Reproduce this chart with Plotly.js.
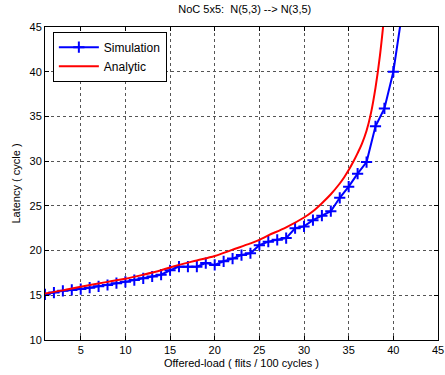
<!DOCTYPE html>
<html>
<head>
<meta charset="utf-8">
<script src="https://cdn.plot.ly/plotly-3.0.1.min.js"></script>
<style>html,body{margin:0;padding:0;background:#fff;}#chart{width:445px;height:375px;}</style>
</head>
<body>
<div id="chart"></div>
<script>
const simLoad = [1,2,3,4,5,6,7,8,9,10,11,12,13,14,15,16,17,18,19,20,21,22,23,24,25,26,27,28,29,30,31,32,33,34,35,36,37,38,39,40,41];
const simLatency = [15.1,15.3,15.5,15.6,15.7,15.85,16.0,16.15,16.35,16.5,16.7,16.9,17.1,17.3,17.8,18.2,18.2,18.2,18.6,18.4,18.8,19.1,19.5,19.7,20.6,21.0,21.2,21.4,22.5,22.7,23.4,23.9,24.4,25.9,27.15,28.6,29.9,33.9,35.9,40.0,46.7];
const anaLoad = [1,3,5,8,10,12,14,16,18,20,22,24,25,26,28,30,31,32,33,34,34.5,35,35.5,36,36.5,37,37.5,38,38.5,39];
const anaLatency = [15.2,15.55,15.95,16.5,16.85,17.3,17.8,18.4,18.9,19.4,20.1,20.8,21.2,21.7,22.6,23.7,24.4,25.3,26.3,27.5,28.2,29.0,29.9,30.9,32.0,33.4,35.4,38.2,41.8,46.5];
const xTicks = [5,10,15,20,25,30,35,40,45];
const yTicks = [10,15,20,25,30,35,40,45];

const traces = [
  {x: simLoad, y: simLatency, name: 'Simulation', type: 'scatter', mode: 'lines+markers',
   line: {color: '#0000ff', width: 2},
   marker: {symbol: 'cross-thin', size: 8, color: '#0000ff', line: {color: '#0000ff', width: 2}}},
  {x: anaLoad, y: anaLatency, name: 'Analytic', type: 'scatter', mode: 'lines',
   line: {color: '#ff0000', width: 2, shape: 'spline', smoothing: 1}}
];

const axisCommon = {
  showline: true, mirror: 'ticks', linecolor: '#000', linewidth: 1,
  ticks: 'inside', ticklen: 4, tickcolor: '#000',
  showgrid: true, gridcolor: '#555', griddash: 'dot', gridwidth: 1,
  zeroline: false, tickfont: {size: 11, color: '#000'}
};

const layout = {
  width: 445, height: 375,
  margin: {l: 45, r: 7, t: 27, b: 35},
  paper_bgcolor: '#fff', plot_bgcolor: '#fff',
  font: {family: 'Liberation Sans, Arial, sans-serif', size: 11, color: '#000'},
  title: {text: 'NoC 5x5:  N(5,3) --> N(3,5)', font: {size: 11, color: '#000'}, x: 0.55, xanchor: 'center', y: 0.985, yanchor: 'top'},
  xaxis: Object.assign({}, axisCommon, {range: [1, 45], tickvals: xTicks,
    title: {text: 'Offered-load ( flits / 100 cycles )', font: {size: 11}, standoff: 4}}),
  yaxis: Object.assign({}, axisCommon, {range: [10, 45], tickvals: yTicks,
    title: {text: 'Latency ( cycle )', font: {size: 11}, standoff: 6}}),
  showlegend: true,
  legend: {x: 0.02, y: 0.985, xanchor: 'left', yanchor: 'top', bgcolor: '#fff',
    bordercolor: '#000', borderwidth: 1, font: {size: 12}, tracegroupgap: 0, itemwidth: 40}
};

Plotly.newPlot('chart', traces, layout, {staticPlot: true, displayModeBar: false});
</script>
</body>
</html>
